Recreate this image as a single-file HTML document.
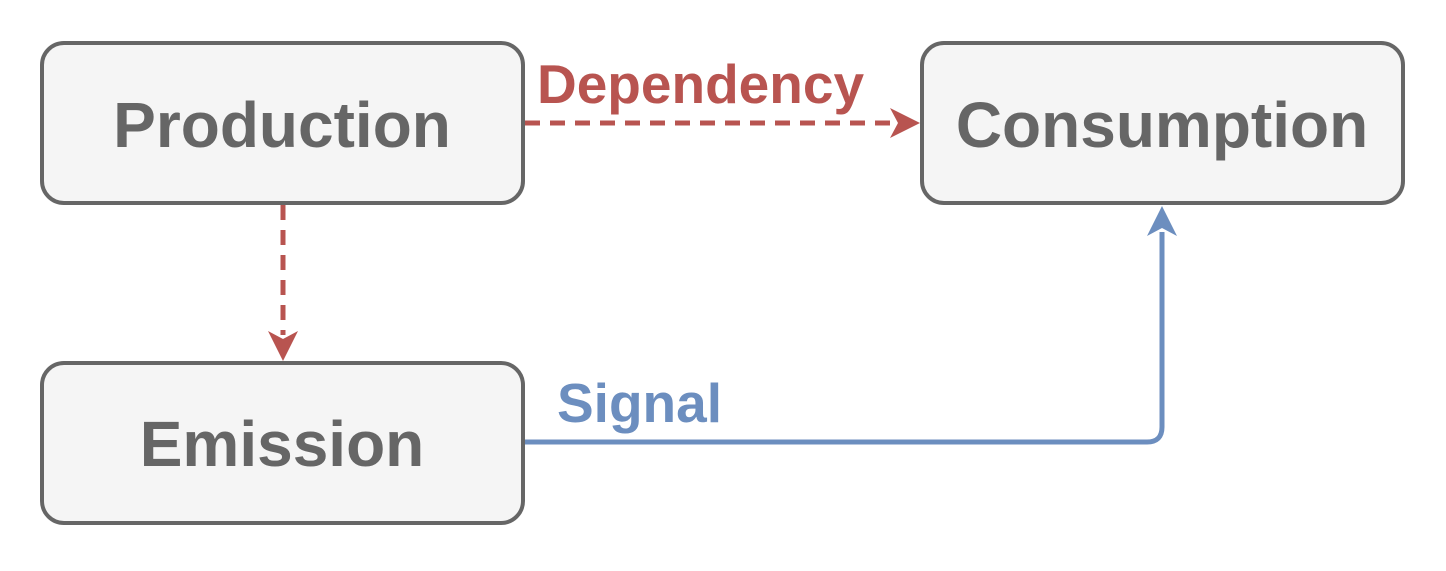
<!DOCTYPE html>
<html><head><style>html,body{margin:0;padding:0;background:#fff;}</style></head>
<body>
<svg width="1446" height="566" viewBox="0 0 1446 566" xmlns="http://www.w3.org/2000/svg" font-family="Liberation Sans, sans-serif" font-weight="bold">
<rect x="42" y="43" width="481" height="160" rx="22" fill="#f5f5f5" stroke="#666" stroke-width="4"/>
<rect x="922" y="43" width="481" height="160" rx="22" fill="#f5f5f5" stroke="#666" stroke-width="4"/>
<rect x="42" y="363" width="481" height="160" rx="22" fill="#f5f5f5" stroke="#666" stroke-width="4"/>
<text x="282" y="147" font-size="64" fill="#666" text-anchor="middle">Production</text>
<text x="1162" y="147" font-size="64" fill="#666" text-anchor="middle">Consumption</text>
<text x="282" y="466" font-size="64" fill="#666" text-anchor="middle">Emission</text>
<line x1="525" y1="123" x2="895" y2="123" stroke="#b85450" stroke-width="5" stroke-dasharray="15,10"/>
<polygon points="920,123 890,108 898,123 890,138" fill="#b85450"/>
<text x="537" y="103" font-size="55" fill="#b85450">Dependency</text>
<line x1="283" y1="205" x2="283" y2="335" stroke="#b85450" stroke-width="5" stroke-dasharray="15,10"/>
<polygon points="283,361 268,331 283,339 298,331" fill="#b85450"/>
<path d="M525 442 H1147 Q1162 442 1162 427 V232" fill="none" stroke="#6c8ebf" stroke-width="5"/>
<polygon points="1162,206 1147,236 1162,228 1177,236" fill="#6c8ebf"/>
<text x="557" y="422" font-size="55" fill="#6c8ebf">Signal</text>
</svg>
</body></html>
